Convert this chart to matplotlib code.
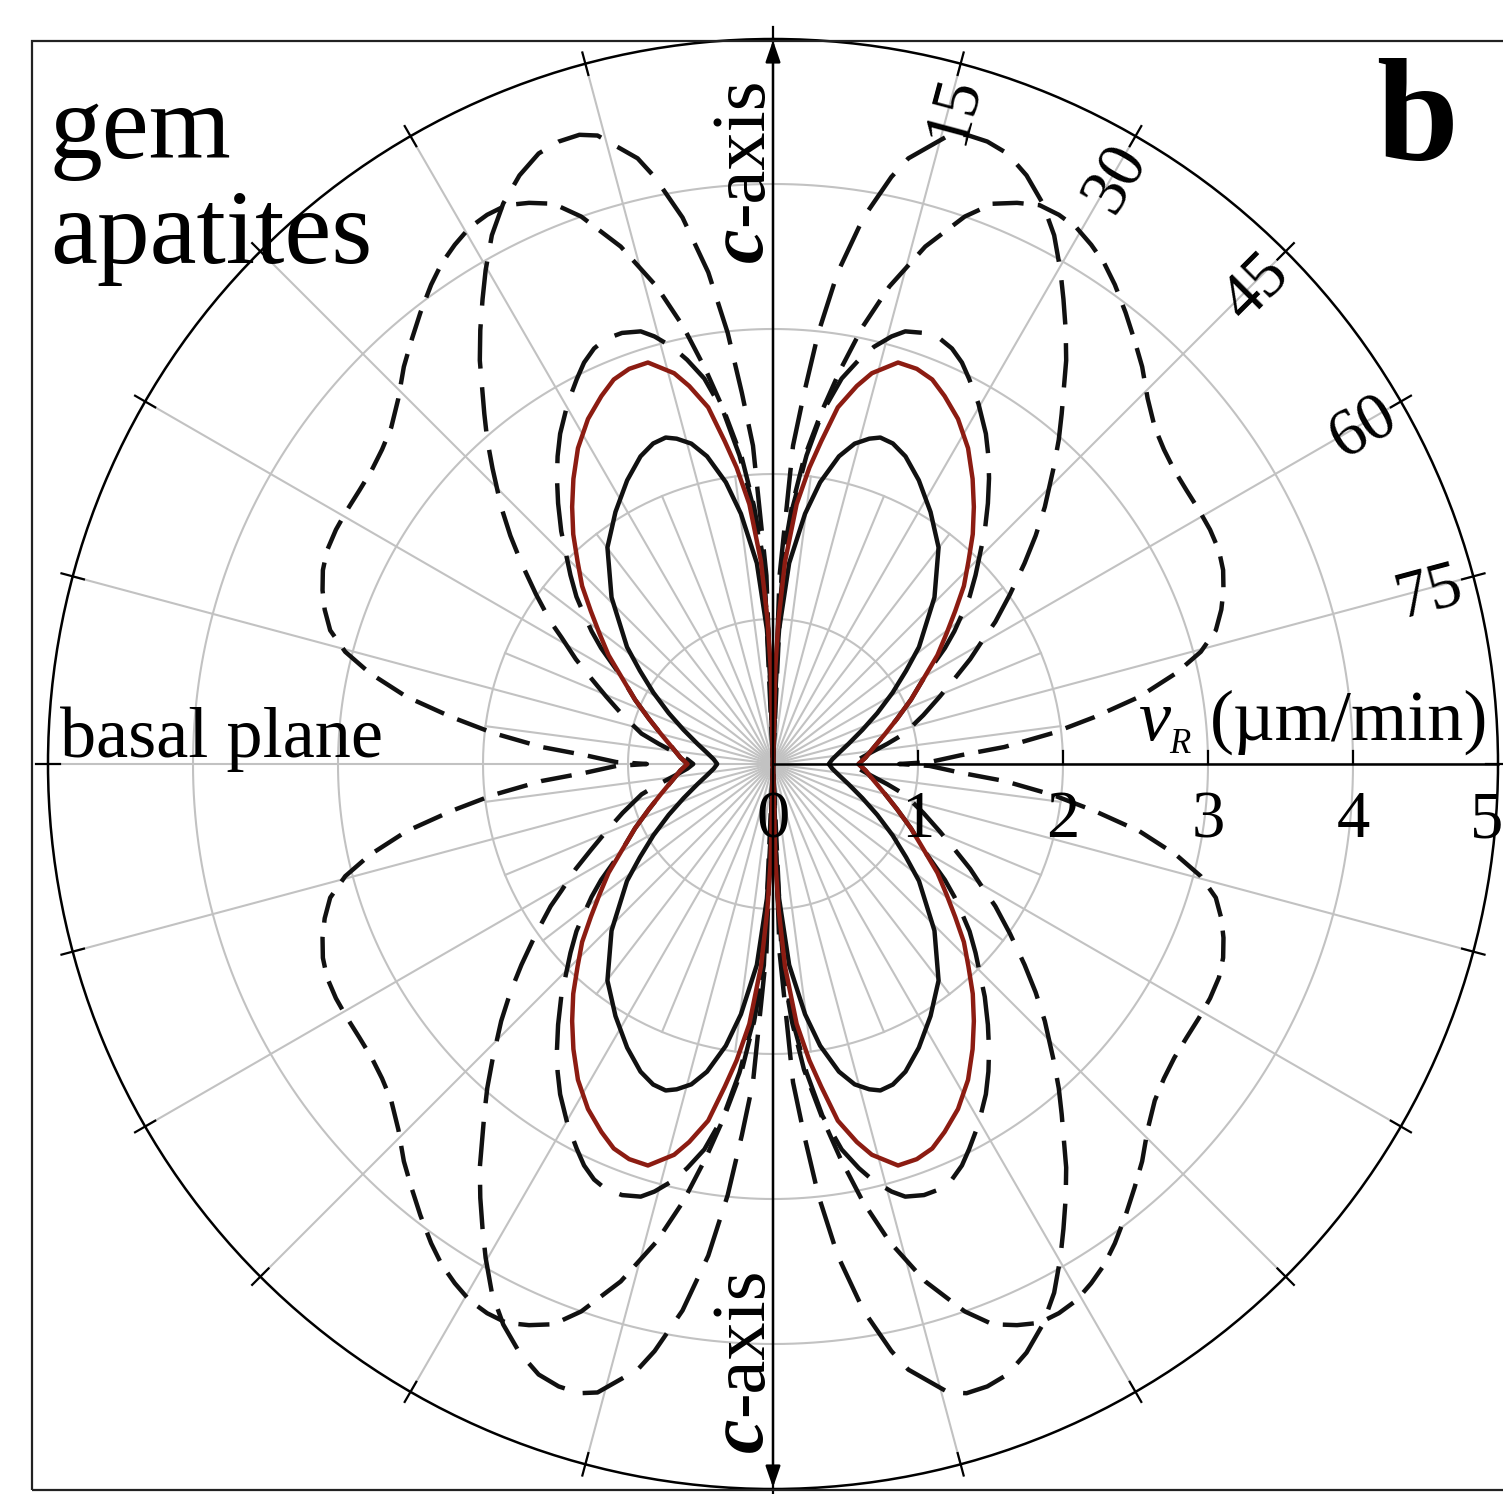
import numpy as np
import matplotlib.pyplot as plt
from matplotlib.patches import Rectangle

plt.rcParams['font.family'] = ['Liberation Serif', 'DejaVu Serif']

# etch rate v_R (um/min) vs angle to the c-axis (deg), one quadrant
# black solid
theta_a = [0, 1.2, 2.6, 4.6, 7.3, 9.5, 12.1, 14.3, 16.5, 18.2, 20.5, 23.3, 27.2, 32.0, 37.4,
           44.1, 51.3, 55.0, 59.2, 64.0, 69.1, 75.0, 80.5, 85.5, 90]
r_a = [0, 0.50, 0.93, 1.39, 1.74, 1.97, 2.17, 2.28, 2.34, 2.37, 2.36, 2.31, 2.20, 2.05, 1.88,
       1.60, 1.29, 1.12, 0.96, 0.80, 0.66, 0.54, 0.46, 0.41, 0.385]
# red solid
theta_b = [0, 1.4, 2.2, 3.4, 5.2, 7.0, 8.5, 10.3, 12.5, 14.2, 17.3, 20, 22.5, 25, 28.2, 31.7,
           35, 38, 41, 44, 47, 50, 53, 56.5, 60, 65, 70, 75, 81, 86, 90]
r_b = [0, 0.67, 1.0, 1.40, 1.80, 2.06, 2.25, 2.50, 2.67, 2.78, 2.90, 2.90, 2.87, 2.80, 2.70, 2.56,
       2.40, 2.25, 2.10, 1.94, 1.80, 1.64, 1.50, 1.36, 1.21, 1.05, 0.91, 0.80, 0.70, 0.64, 0.59]
# dashed, just outside the red one (runs into it below ~58 deg)
theta_c = [0, 2, 3.1, 4.4, 6.2, 8.0, 10.1, 12, 13.6, 15.5, 17.0, 19.3, 21.5, 23.3, 25.2, 27.0,
           29.7, 32.8, 35.0, 37.1, 39.5, 42.3, 44.3, 47, 49.6, 51.5, 53.8, 56, 58, 60, 65, 70,
           75, 81, 86, 90]
r_c = [0, 0.9, 1.45, 1.78, 2.14, 2.45, 2.70, 2.85, 2.96, 3.06, 3.12, 3.15, 3.15, 3.12, 3.06, 2.98,
       2.86, 2.71, 2.59, 2.47, 2.33, 2.17, 2.05, 1.91, 1.78, 1.67, 1.55, 1.43, 1.31, 1.21, 1.05, 0.91,
       0.80, 0.70, 0.64, 0.59]
# long dashes, tall lobe
theta_p = [0, 2.0, 3.6, 4.8, 6.0, 7.5, 9.4, 11.4, 12.6, 15.6, 17.1, 19, 21, 23.3, 25.7, 28, 30.2,
           32, 34, 36, 37.7, 39.5, 41.4, 43.5, 46.6, 49, 51.4, 54.4, 57.4, 59.1, 62, 64.7, 68, 72,
           77, 80, 84, 87, 90]
r_p = [0, 1.3, 2.2, 2.57, 2.99, 3.42, 3.82, 4.13, 4.28, 4.50, 4.54, 4.54, 4.51, 4.42, 4.29, 4.13,
       3.94, 3.78, 3.61, 3.44, 3.28, 3.13, 2.98, 2.81, 2.58, 2.40, 2.22, 2.01, 1.82, 1.70, 1.54,
       1.39, 1.24, 1.09, 0.93, 0.80, 0.66, 0.59, 0.55]
# short dashes, widest
theta_s = [0, 2.6, 4.2, 5.8, 7.9, 9.7, 11.6, 13.7, 16.4, 19.3, 21.4, 23.5, 25.5, 27.5, 29.5, 31.5,
           33.5, 35.5, 38.0, 40.5, 42.9, 45.7, 48.6, 51.2, 53.8, 56.5, 59.2, 61.8, 64.4, 66.7, 68.9,
           71, 73.2, 75.3, 77.3, 79.6, 81.7, 83.7, 85.8, 87.3, 89.3, 90]
r_s = [0, 1.39, 1.78, 2.12, 2.46, 2.76, 3.08, 3.39, 3.72, 4.00, 4.15, 4.22, 4.27, 4.27, 4.25, 4.20,
       4.14, 4.06, 3.95, 3.84, 3.74, 3.61, 3.51, 3.46, 3.43, 3.42, 3.42, 3.42, 3.41, 3.38, 3.33,
       3.27, 3.19, 3.05, 2.85, 2.57, 2.24, 1.94, 1.60, 1.30, 1.08, 0.87]

r_ticks = [0, 1, 2, 3, 4, 5]
angle_labels = [15, 30, 45, 60, 75]


def four_quadrants(theta_deg, r):
    t = np.asarray(theta_deg, float)
    r = np.asarray(r, float)
    tt = np.concatenate([t, 180 - t[::-1], 180 + t, 360 - t[::-1]])
    rr = np.concatenate([r, r[::-1], r, r[::-1]])
    return np.radians(tt), rr


W, H = 1503, 1494
cx, cy, R = 773, 764, 725   # centre and radius of r=5 in pixels
rect = [(cx - R) / W, (H - cy - R) / H, 2 * R / W, 2 * R / H]

fig = plt.figure(figsize=(W / 100, H / 100), dpi=100)
fig.add_artist(Rectangle((32 / W, 4 / H), (W + 5 - 32) / W, (H - 41 - 4) / H,
                         transform=fig.transFigure, fill=False, lw=1.6, ec='#222222'))

ax = fig.add_axes(rect, projection='polar')
ax.set_theta_zero_location('N')
ax.set_theta_direction(-1)
ax.set_ylim(0, 5)
ax.set_xticks([])
ax.set_yticks([])
ax.grid(False)
ax.spines['polar'].set_linewidth(1.8)
ax.patch.set_alpha(0)

gray = '#c2c2c2'
tt = np.radians(np.arange(0, 361, 1))
for rv in r_ticks[1:-1]:
    ax.plot(tt, np.full_like(tt, rv), color=gray, lw=1.5, zorder=1)
for ang in range(0, 360, 15):
    ax.plot([np.radians(ang)] * 2, [0, 5], color=gray, lw=1.5, zorder=1)
for ang in np.arange(7.5, 360, 15):
    ax.plot([np.radians(ang)] * 2, [0, 2], color=gray, lw=1.5, zorder=1)

lw = 3.2
t, r = four_quadrants(theta_s, r_s)
ax.plot(t, r, color='#111111', lw=lw, dashes=(7, 3.2), zorder=3)
t, r = four_quadrants(theta_p, r_p)
ax.plot(t, r, color='#111111', lw=lw, dashes=(10, 4.2), zorder=3)
t, r = four_quadrants(theta_c, r_c)
ax.plot(t, r, color='#111111', lw=lw, dashes=(12, 4.5), zorder=3)
t, r = four_quadrants(theta_a, r_a)
ax.plot(t, r, color='#111111', lw=lw, zorder=4)
t, r = four_quadrants(theta_b, r_b)
ax.plot(t, r, color='#8c1c12', lw=lw, zorder=5)

# overlay in v_R units for axes, ticks and labels
ax2 = fig.add_axes(rect)
ax2.set_xlim(-5, 5)
ax2.set_ylim(-5, 5)
ax2.axis('off')
ax2.patch.set_alpha(0)


def px(x, y):
    return (x - cx) / R * 5, (cy - y) / R * 5


# outer ticks every 15 deg
for ang in np.radians(np.arange(0, 360, 15)):
    ax2.plot([4.92 * np.sin(ang), 5.08 * np.sin(ang)], [4.92 * np.cos(ang), 5.08 * np.cos(ang)],
             color='black', lw=1.6, clip_on=False)

# r axis with ticks
ax2.plot([0, 5], [0, 0], color='black', lw=1.8, clip_on=False)
for v in r_ticks[1:-1]:
    ax2.plot([v, v], [0, 0.09], color='black', lw=1.6)
# c-axis arrows
for sgn in (1, -1):
    ax2.annotate('', xy=(0, 4.99 * sgn), xytext=(0, 0),
                 arrowprops=dict(arrowstyle='-|>,head_length=1.3,head_width=0.45',
                                 color='black', lw=1.8, mutation_scale=10, shrinkA=0, shrinkB=0),
                 annotation_clip=False)

num_fs = 48
for v in r_ticks:
    if v == 5:
        ax2.text(5.04, px(0, 837)[1], str(v), fontsize=num_fs, ha='right', va='baseline')
    else:
        ax2.text(v, px(0, 837)[1], str(v), fontsize=num_fs, ha='center', va='baseline')

for a in angle_labels:
    th = np.radians(a + 0.4)
    ax2.text(4.68 * np.sin(th), 4.68 * np.cos(th), str(a), fontsize=num_fs,
             rotation=90 - a, rotation_mode='anchor', ha='center', va='center')

txt_fs = 52
ax2.text(*px(60, 757), 'basal plane', fontsize=txt_fs, ha='left', va='baseline')
ax2.text(*px(1138, 740), 'v', fontsize=txt_fs, style='italic', ha='left', va='baseline')
ax2.text(*px(1169, 753), 'R', fontsize=25, style='italic', ha='left', va='baseline')
ax2.text(*px(1210, 740), '(\u00b5m/min)', fontsize=txt_fs, ha='left', va='baseline')

ax2.text(*px(50, 158), 'gem', fontsize=76, ha='left', va='baseline')
ax2.text(*px(50, 263), 'apatites', fontsize=76, ha='left', va='baseline')
ax2.text(*px(1376, 160), 'b', fontsize=106, fontweight='bold', ha='left', va='baseline')

# c-axis labels, bold italic c followed by -axis
fig.canvas.draw()
renderer = fig.canvas.get_renderer()
for y0 in (262, 1452):
    c = ax2.text(*px(762, y0), 'c', fontsize=56, fontweight='bold', style='italic',
                 rotation=90, rotation_mode='anchor', ha='left', va='baseline')
    bb = c.get_window_extent(renderer)
    ax2.text(*px(762, y0 - bb.height - 1), '-axis', fontsize=55,
             rotation=90, rotation_mode='anchor', ha='left', va='baseline')

fig.savefig('out.png', dpi=100)
